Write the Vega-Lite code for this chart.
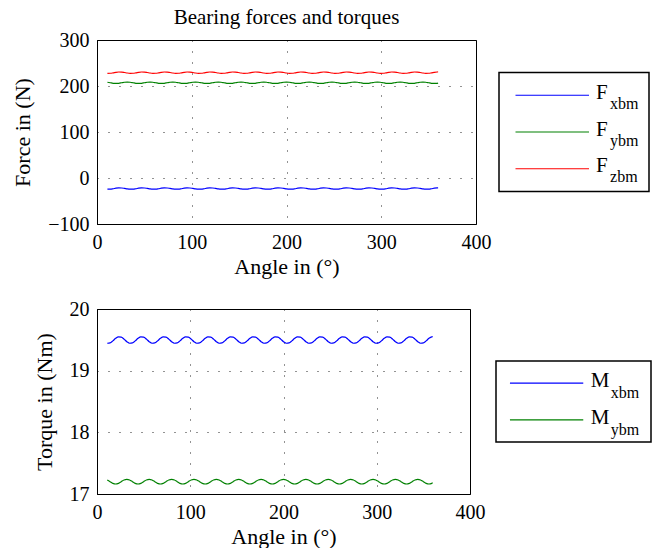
{
  "$schema": "https://vega.github.io/schema/vega-lite/v6.json",
  "padding": {"left": 11, "top": 6, "right": 0, "bottom": 0},
  "background": "white",
  "spacing": 20,
  "config": {
    "font": "Liberation Serif",
    "view": {"stroke": "black", "strokeWidth": 1},
    "axis": {
      "labelFont": "Liberation Serif", "labelFontSize": 20, "labelColor": "black",
      "titleFont": "Liberation Serif", "titleFontSize": 22, "titleFontWeight": "normal", "titleColor": "black",
      "domainColor": "black", "domainWidth": 1, "ticks": false,
      "gridColor": "black", "gridDash": [1, 10], "gridWidth": 1, "gridOpacity": 0.85,
      "labelPadding": 8, "labelFlush": false, "labelOverlap": false
    },
    "axisY": {"titlePadding": 13}
  },
  "datasets": {
    "curves": [
      {"a":11,"Fx":-24.4,"Fy":208.1,"Fz":227.6,"Mx":19.445,"My":17.227},
      {"a":14,"Fx":-24.3,"Fy":207.0,"Fz":227.7,"Mx":19.450,"My":17.200},
      {"a":17,"Fx":-23.4,"Fy":205.9,"Fz":228.6,"Mx":19.483,"My":17.173},
      {"a":20,"Fx":-22.2,"Fy":205.5,"Fz":229.8,"Mx":19.524,"My":17.162},
      {"a":23,"Fx":-21.6,"Fy":205.9,"Fz":230.4,"Mx":19.549,"My":17.173},
      {"a":26,"Fx":-21.7,"Fy":207.0,"Fz":230.3,"Mx":19.544,"My":17.200},
      {"a":29,"Fx":-22.6,"Fy":208.1,"Fz":229.4,"Mx":19.511,"My":17.227},
      {"a":32,"Fx":-23.8,"Fy":208.5,"Fz":228.2,"Mx":19.470,"My":17.238},
      {"a":35,"Fx":-24.4,"Fy":208.1,"Fz":227.6,"Mx":19.445,"My":17.227},
      {"a":38,"Fx":-24.3,"Fy":207.0,"Fz":227.7,"Mx":19.450,"My":17.200},
      {"a":41,"Fx":-23.4,"Fy":205.9,"Fz":228.6,"Mx":19.483,"My":17.173},
      {"a":44,"Fx":-22.2,"Fy":205.5,"Fz":229.8,"Mx":19.524,"My":17.162},
      {"a":47,"Fx":-21.6,"Fy":205.9,"Fz":230.4,"Mx":19.549,"My":17.173},
      {"a":50,"Fx":-21.7,"Fy":207.0,"Fz":230.3,"Mx":19.544,"My":17.200},
      {"a":53,"Fx":-22.6,"Fy":208.1,"Fz":229.4,"Mx":19.511,"My":17.227},
      {"a":56,"Fx":-23.8,"Fy":208.5,"Fz":228.2,"Mx":19.470,"My":17.238},
      {"a":59,"Fx":-24.4,"Fy":208.1,"Fz":227.6,"Mx":19.445,"My":17.227},
      {"a":62,"Fx":-24.3,"Fy":207.0,"Fz":227.7,"Mx":19.450,"My":17.200},
      {"a":65,"Fx":-23.4,"Fy":205.9,"Fz":228.6,"Mx":19.483,"My":17.173},
      {"a":68,"Fx":-22.2,"Fy":205.5,"Fz":229.8,"Mx":19.524,"My":17.162},
      {"a":71,"Fx":-21.6,"Fy":205.9,"Fz":230.4,"Mx":19.549,"My":17.173},
      {"a":74,"Fx":-21.7,"Fy":207.0,"Fz":230.3,"Mx":19.544,"My":17.200},
      {"a":77,"Fx":-22.6,"Fy":208.1,"Fz":229.4,"Mx":19.511,"My":17.227},
      {"a":80,"Fx":-23.8,"Fy":208.5,"Fz":228.2,"Mx":19.470,"My":17.238},
      {"a":83,"Fx":-24.4,"Fy":208.1,"Fz":227.6,"Mx":19.445,"My":17.227},
      {"a":86,"Fx":-24.3,"Fy":207.0,"Fz":227.7,"Mx":19.450,"My":17.200},
      {"a":89,"Fx":-23.4,"Fy":205.9,"Fz":228.6,"Mx":19.483,"My":17.173},
      {"a":92,"Fx":-22.2,"Fy":205.5,"Fz":229.8,"Mx":19.524,"My":17.162},
      {"a":95,"Fx":-21.6,"Fy":205.9,"Fz":230.4,"Mx":19.549,"My":17.173},
      {"a":98,"Fx":-21.7,"Fy":207.0,"Fz":230.3,"Mx":19.544,"My":17.200},
      {"a":101,"Fx":-22.6,"Fy":208.1,"Fz":229.4,"Mx":19.511,"My":17.227},
      {"a":104,"Fx":-23.8,"Fy":208.5,"Fz":228.2,"Mx":19.470,"My":17.238},
      {"a":107,"Fx":-24.4,"Fy":208.1,"Fz":227.6,"Mx":19.445,"My":17.227},
      {"a":110,"Fx":-24.3,"Fy":207.0,"Fz":227.7,"Mx":19.450,"My":17.200},
      {"a":113,"Fx":-23.4,"Fy":205.9,"Fz":228.6,"Mx":19.483,"My":17.173},
      {"a":116,"Fx":-22.2,"Fy":205.5,"Fz":229.8,"Mx":19.524,"My":17.162},
      {"a":119,"Fx":-21.6,"Fy":205.9,"Fz":230.4,"Mx":19.549,"My":17.173},
      {"a":122,"Fx":-21.7,"Fy":207.0,"Fz":230.3,"Mx":19.544,"My":17.200},
      {"a":125,"Fx":-22.6,"Fy":208.1,"Fz":229.4,"Mx":19.511,"My":17.227},
      {"a":128,"Fx":-23.8,"Fy":208.5,"Fz":228.2,"Mx":19.470,"My":17.238},
      {"a":131,"Fx":-24.4,"Fy":208.1,"Fz":227.6,"Mx":19.445,"My":17.227},
      {"a":134,"Fx":-24.3,"Fy":207.0,"Fz":227.7,"Mx":19.450,"My":17.200},
      {"a":137,"Fx":-23.4,"Fy":205.9,"Fz":228.6,"Mx":19.483,"My":17.173},
      {"a":140,"Fx":-22.2,"Fy":205.5,"Fz":229.8,"Mx":19.524,"My":17.162},
      {"a":143,"Fx":-21.6,"Fy":205.9,"Fz":230.4,"Mx":19.549,"My":17.173},
      {"a":146,"Fx":-21.7,"Fy":207.0,"Fz":230.3,"Mx":19.544,"My":17.200},
      {"a":149,"Fx":-22.6,"Fy":208.1,"Fz":229.4,"Mx":19.511,"My":17.227},
      {"a":152,"Fx":-23.8,"Fy":208.5,"Fz":228.2,"Mx":19.470,"My":17.238},
      {"a":155,"Fx":-24.4,"Fy":208.1,"Fz":227.6,"Mx":19.445,"My":17.227},
      {"a":158,"Fx":-24.3,"Fy":207.0,"Fz":227.7,"Mx":19.450,"My":17.200},
      {"a":161,"Fx":-23.4,"Fy":205.9,"Fz":228.6,"Mx":19.483,"My":17.173},
      {"a":164,"Fx":-22.2,"Fy":205.5,"Fz":229.8,"Mx":19.524,"My":17.162},
      {"a":167,"Fx":-21.6,"Fy":205.9,"Fz":230.4,"Mx":19.549,"My":17.173},
      {"a":170,"Fx":-21.7,"Fy":207.0,"Fz":230.3,"Mx":19.544,"My":17.200},
      {"a":173,"Fx":-22.6,"Fy":208.1,"Fz":229.4,"Mx":19.511,"My":17.227},
      {"a":176,"Fx":-23.8,"Fy":208.5,"Fz":228.2,"Mx":19.470,"My":17.238},
      {"a":179,"Fx":-24.4,"Fy":208.1,"Fz":227.6,"Mx":19.445,"My":17.227},
      {"a":182,"Fx":-24.3,"Fy":207.0,"Fz":227.7,"Mx":19.450,"My":17.200},
      {"a":185,"Fx":-23.4,"Fy":205.9,"Fz":228.6,"Mx":19.483,"My":17.173},
      {"a":188,"Fx":-22.2,"Fy":205.5,"Fz":229.8,"Mx":19.524,"My":17.162},
      {"a":191,"Fx":-21.6,"Fy":205.9,"Fz":230.4,"Mx":19.549,"My":17.173},
      {"a":194,"Fx":-21.7,"Fy":207.0,"Fz":230.3,"Mx":19.544,"My":17.200},
      {"a":197,"Fx":-22.6,"Fy":208.1,"Fz":229.4,"Mx":19.511,"My":17.227},
      {"a":200,"Fx":-23.8,"Fy":208.5,"Fz":228.2,"Mx":19.470,"My":17.238},
      {"a":203,"Fx":-24.4,"Fy":208.1,"Fz":227.6,"Mx":19.445,"My":17.227},
      {"a":206,"Fx":-24.3,"Fy":207.0,"Fz":227.7,"Mx":19.450,"My":17.200},
      {"a":209,"Fx":-23.4,"Fy":205.9,"Fz":228.6,"Mx":19.483,"My":17.173},
      {"a":212,"Fx":-22.2,"Fy":205.5,"Fz":229.8,"Mx":19.524,"My":17.162},
      {"a":215,"Fx":-21.6,"Fy":205.9,"Fz":230.4,"Mx":19.549,"My":17.173},
      {"a":218,"Fx":-21.7,"Fy":207.0,"Fz":230.3,"Mx":19.544,"My":17.200},
      {"a":221,"Fx":-22.6,"Fy":208.1,"Fz":229.4,"Mx":19.511,"My":17.227},
      {"a":224,"Fx":-23.8,"Fy":208.5,"Fz":228.2,"Mx":19.470,"My":17.238},
      {"a":227,"Fx":-24.4,"Fy":208.1,"Fz":227.6,"Mx":19.445,"My":17.227},
      {"a":230,"Fx":-24.3,"Fy":207.0,"Fz":227.7,"Mx":19.450,"My":17.200},
      {"a":233,"Fx":-23.4,"Fy":205.9,"Fz":228.6,"Mx":19.483,"My":17.173},
      {"a":236,"Fx":-22.2,"Fy":205.5,"Fz":229.8,"Mx":19.524,"My":17.162},
      {"a":239,"Fx":-21.6,"Fy":205.9,"Fz":230.4,"Mx":19.549,"My":17.173},
      {"a":242,"Fx":-21.7,"Fy":207.0,"Fz":230.3,"Mx":19.544,"My":17.200},
      {"a":245,"Fx":-22.6,"Fy":208.1,"Fz":229.4,"Mx":19.511,"My":17.227},
      {"a":248,"Fx":-23.8,"Fy":208.5,"Fz":228.2,"Mx":19.470,"My":17.238},
      {"a":251,"Fx":-24.4,"Fy":208.1,"Fz":227.6,"Mx":19.445,"My":17.227},
      {"a":254,"Fx":-24.3,"Fy":207.0,"Fz":227.7,"Mx":19.450,"My":17.200},
      {"a":257,"Fx":-23.4,"Fy":205.9,"Fz":228.6,"Mx":19.483,"My":17.173},
      {"a":260,"Fx":-22.2,"Fy":205.5,"Fz":229.8,"Mx":19.524,"My":17.162},
      {"a":263,"Fx":-21.6,"Fy":205.9,"Fz":230.4,"Mx":19.549,"My":17.173},
      {"a":266,"Fx":-21.7,"Fy":207.0,"Fz":230.3,"Mx":19.544,"My":17.200},
      {"a":269,"Fx":-22.6,"Fy":208.1,"Fz":229.4,"Mx":19.511,"My":17.227},
      {"a":272,"Fx":-23.8,"Fy":208.5,"Fz":228.2,"Mx":19.470,"My":17.238},
      {"a":275,"Fx":-24.4,"Fy":208.1,"Fz":227.6,"Mx":19.445,"My":17.227},
      {"a":278,"Fx":-24.3,"Fy":207.0,"Fz":227.7,"Mx":19.450,"My":17.200},
      {"a":281,"Fx":-23.4,"Fy":205.9,"Fz":228.6,"Mx":19.483,"My":17.173},
      {"a":284,"Fx":-22.2,"Fy":205.5,"Fz":229.8,"Mx":19.524,"My":17.162},
      {"a":287,"Fx":-21.6,"Fy":205.9,"Fz":230.4,"Mx":19.549,"My":17.173},
      {"a":290,"Fx":-21.7,"Fy":207.0,"Fz":230.3,"Mx":19.544,"My":17.200},
      {"a":293,"Fx":-22.6,"Fy":208.1,"Fz":229.4,"Mx":19.511,"My":17.227},
      {"a":296,"Fx":-23.8,"Fy":208.5,"Fz":228.2,"Mx":19.470,"My":17.238},
      {"a":299,"Fx":-24.4,"Fy":208.1,"Fz":227.6,"Mx":19.445,"My":17.227},
      {"a":302,"Fx":-24.3,"Fy":207.0,"Fz":227.7,"Mx":19.450,"My":17.200},
      {"a":305,"Fx":-23.4,"Fy":205.9,"Fz":228.6,"Mx":19.483,"My":17.173},
      {"a":308,"Fx":-22.2,"Fy":205.5,"Fz":229.8,"Mx":19.524,"My":17.162},
      {"a":311,"Fx":-21.6,"Fy":205.9,"Fz":230.4,"Mx":19.549,"My":17.173},
      {"a":314,"Fx":-21.7,"Fy":207.0,"Fz":230.3,"Mx":19.544,"My":17.200},
      {"a":317,"Fx":-22.6,"Fy":208.1,"Fz":229.4,"Mx":19.511,"My":17.227},
      {"a":320,"Fx":-23.8,"Fy":208.5,"Fz":228.2,"Mx":19.470,"My":17.238},
      {"a":323,"Fx":-24.4,"Fy":208.1,"Fz":227.6,"Mx":19.445,"My":17.227},
      {"a":326,"Fx":-24.3,"Fy":207.0,"Fz":227.7,"Mx":19.450,"My":17.200},
      {"a":329,"Fx":-23.4,"Fy":205.9,"Fz":228.6,"Mx":19.483,"My":17.173},
      {"a":332,"Fx":-22.2,"Fy":205.5,"Fz":229.8,"Mx":19.524,"My":17.162},
      {"a":335,"Fx":-21.6,"Fy":205.9,"Fz":230.4,"Mx":19.549,"My":17.173},
      {"a":338,"Fx":-21.7,"Fy":207.0,"Fz":230.3,"Mx":19.544,"My":17.200},
      {"a":341,"Fx":-22.6,"Fy":208.1,"Fz":229.4,"Mx":19.511,"My":17.227},
      {"a":344,"Fx":-23.8,"Fy":208.5,"Fz":228.2,"Mx":19.470,"My":17.238},
      {"a":347,"Fx":-24.4,"Fy":208.1,"Fz":227.6,"Mx":19.445,"My":17.227},
      {"a":350,"Fx":-24.3,"Fy":207.0,"Fz":227.7,"Mx":19.450,"My":17.200},
      {"a":353,"Fx":-23.4,"Fy":205.9,"Fz":228.6,"Mx":19.483,"My":17.173},
      {"a":356,"Fx":-22.2,"Fy":205.5,"Fz":229.8,"Mx":19.524,"My":17.162},
      {"a":359,"Fx":-21.6,"Fy":205.9,"Fz":230.4,"Mx":19.549,"My":17.173},
      {"a":360,"Fx":-21.5,"Fy":206.3,"Fz":230.5,"Mx":19.551,"My":17.181}
    ],
    "flegend": [
      {"name": "Fx", "sym": "F", "sub": "xbm"},
      {"name": "Fy", "sym": "F", "sub": "ybm"},
      {"name": "Fz", "sym": "F", "sub": "zbm"}
    ],
    "mlegend": [
      {"name": "Mx", "sym": "M", "sub": "xbm"},
      {"name": "My", "sym": "M", "sub": "ybm"}
    ]
  },
  "vconcat": [
    {
      "spacing": 23,
      "center": true,
      "bounds": "flush",
      "hconcat": [
        {
          "title": {"text": "Bearing forces and torques", "font": "Liberation Serif", "fontSize": 21, "fontWeight": "normal", "color": "black", "offset": 2},
          "width": 379, "height": 184,
          "data": {"name": "curves"},
          "transform": [{"fold": ["Fx", "Fy", "Fz"], "as": ["s", "v"]}],
          "mark": {"type": "line", "strokeWidth": 1.2, "interpolate": "monotone", "clip": true},
          "encoding": {
            "x": {"field": "a", "type": "quantitative", "scale": {"domain": [0, 400], "nice": false}, "axis": {"values": [0, 100, 200, 300, 400], "title": "Angle in (°)"}},
            "y": {"field": "v", "type": "quantitative", "scale": {"domain": [-100, 300], "nice": false, "zero": false}, "axis": {"values": [-100, 0, 100, 200, 300], "title": "Force in (N)"}},
            "color": {"field": "s", "type": "nominal", "scale": {"domain": ["Fx", "Fy", "Fz"], "range": ["#0000ff", "#008000", "#ff0000"]}, "legend": null},
            "detail": {"field": "s"}
          }
        },
        {
          "width": 150, "height": 119,
          "view": {"stroke": "black", "strokeWidth": 1.5},
          "data": {"name": "flegend"},
          "encoding": {
            "y": {"field": "name", "type": "nominal", "scale": {"type": "point", "domain": ["Fx", "Fy", "Fz"], "padding": 0.62}, "axis": null}
          },
          "layer": [
            {
              "mark": {"type": "rule", "strokeWidth": 1.2},
              "encoding": {
                "x": {"datum": 0.11, "type": "quantitative", "scale": {"domain": [0, 1], "nice": false}, "axis": null},
                "x2": {"datum": 0.6},
                "color": {"field": "name", "type": "nominal", "scale": {"domain": ["Fx", "Fy", "Fz"], "range": ["#0000ff", "#008000", "#ff0000"]}, "legend": null}
              }
            },
            {
              "mark": {"type": "text", "align": "left", "baseline": "alphabetic", "font": "Liberation Serif", "fontSize": 21, "dy": 3.5, "color": "black"},
              "encoding": {"x": {"datum": 0.647, "type": "quantitative"}, "text": {"field": "sym"}}
            },
            {
              "mark": {"type": "text", "align": "left", "baseline": "alphabetic", "font": "Liberation Serif", "fontSize": 16, "dx": 14, "dy": 13.5, "color": "black"},
              "encoding": {"x": {"datum": 0.647, "type": "quantitative"}, "text": {"field": "sub"}}
            }
          ]
        }
      ]
    },
    {
      "spacing": 26,
      "center": true,
      "bounds": "flush",
      "hconcat": [
        {
          "width": 373, "height": 185,
          "data": {"name": "curves"},
          "transform": [{"fold": ["Mx", "My"], "as": ["s", "v"]}],
          "mark": {"type": "line", "strokeWidth": 1.2, "interpolate": "monotone", "clip": true},
          "encoding": {
            "x": {"field": "a", "type": "quantitative", "scale": {"domain": [0, 400], "nice": false}, "axis": {"values": [0, 100, 200, 300, 400], "title": "Angle in (°)"}},
            "y": {"field": "v", "type": "quantitative", "scale": {"domain": [17, 20], "nice": false, "zero": false}, "axis": {"values": [17, 18, 19, 20], "title": "Torque in (Nm)"}},
            "color": {"field": "s", "type": "nominal", "scale": {"domain": ["Mx", "My"], "range": ["#0000ff", "#008000"]}, "legend": null},
            "detail": {"field": "s"}
          }
        },
        {
          "width": 155, "height": 81,
          "view": {"stroke": "black", "strokeWidth": 1.5},
          "data": {"name": "mlegend"},
          "encoding": {
            "y": {"field": "name", "type": "nominal", "scale": {"type": "point", "domain": ["Mx", "My"], "padding": 0.6}, "axis": null}
          },
          "layer": [
            {
              "mark": {"type": "rule", "strokeWidth": 1.2},
              "encoding": {
                "x": {"datum": 0.09, "type": "quantitative", "scale": {"domain": [0, 1], "nice": false}, "axis": null},
                "x2": {"datum": 0.563},
                "color": {"field": "name", "type": "nominal", "scale": {"domain": ["Mx", "My"], "range": ["#0000ff", "#008000"]}, "legend": null}
              }
            },
            {
              "mark": {"type": "text", "align": "left", "baseline": "alphabetic", "font": "Liberation Serif", "fontSize": 21, "dy": 4, "color": "black"},
              "encoding": {"x": {"datum": 0.611, "type": "quantitative"}, "text": {"field": "sym"}}
            },
            {
              "mark": {"type": "text", "align": "left", "baseline": "alphabetic", "font": "Liberation Serif", "fontSize": 16, "dx": 20, "dy": 15, "color": "black"},
              "encoding": {"x": {"datum": 0.611, "type": "quantitative"}, "text": {"field": "sub"}}
            }
          ]
        }
      ]
    }
  ]
}
